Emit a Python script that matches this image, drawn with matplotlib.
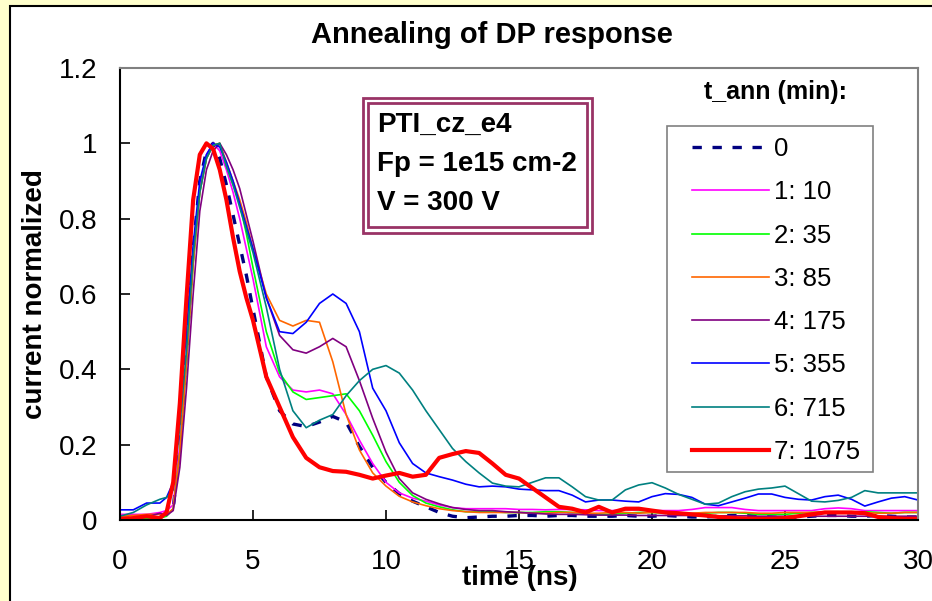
import matplotlib
matplotlib.use("Agg")
import matplotlib.pyplot as plt
from matplotlib.patches import Rectangle

plt.rcParams['font.family'] = ['Liberation Sans', 'DejaVu Sans']

# time axis (ns)
t = [0, 0.5, 1, 1.5, 1.75, 2, 2.25, 2.5, 2.75, 3, 3.25, 3.5, 3.75, 4, 4.25, 4.5, 4.75, 5,
     5.5, 6, 6.5, 7, 7.5, 8, 8.5, 9, 9.5, 10, 10.5, 11, 11.5, 12, 12.5, 13, 13.5, 14, 14.5, 15,
     15.5, 16, 16.5, 17, 17.5, 18, 18.5, 19, 19.5, 20, 20.5, 21, 21.5, 22, 22.5, 23, 23.5, 24,
     24.5, 25, 25.5, 26, 26.5, 27, 27.5, 28, 28.5, 29, 29.5, 30]

labels = ["0", "1: 10", "2: 35", "3: 85", "4: 175", "5: 355", "6: 715", "7: 1075"]
colors = ["#000080", "#FF00FF", "#00FF00", "#FF6600", "#800080", "#0000FF", "#008080", "#FF0000"]

ann0 = [0.005, 0.005, 0.006, 0.01, 0.015, 0.03,
        0.2, 0.45, 0.72, 0.9, 0.98, 1.0, 0.96, 0.89, 0.81, 0.73, 0.65, 0.56,
        0.38, 0.29, 0.255, 0.248, 0.26, 0.275, 0.26, 0.195, 0.14, 0.10, 0.07, 0.05, 0.035, 0.02,
        0.01, 0.006, 0.008, 0.01, 0.01, 0.012, 0.012, 0.01, 0.012, 0.012, 0.01, 0.01, 0.01,
        0.012, 0.01, 0.01, 0.012, 0.01, 0.008, 0.008, 0.01, 0.012, 0.012, 0.01, 0.008, 0.006,
        0.008, 0.01, 0.012, 0.012, 0.01, 0.01, 0.012, 0.01, 0.008, 0.008]
ann10 = [0.015, 0.015, 0.015, 0.02, 0.025, 0.04,
         0.2, 0.43, 0.69, 0.88, 0.97, 1.0, 0.98, 0.93, 0.87, 0.8, 0.72, 0.64,
         0.46, 0.38, 0.345, 0.34, 0.345, 0.335, 0.28, 0.212, 0.15, 0.10, 0.072, 0.058, 0.05, 0.04,
         0.033, 0.03, 0.03, 0.03, 0.03, 0.028, 0.028, 0.027, 0.028, 0.028, 0.027, 0.025, 0.025,
         0.027, 0.027, 0.025, 0.025, 0.025, 0.028, 0.033, 0.033, 0.033, 0.028, 0.025, 0.025, 0.025,
         0.025, 0.025, 0.03, 0.032, 0.03, 0.025, 0.025, 0.025, 0.025, 0.025]
ann35 = [0.005, 0.005, 0.005, 0.005, 0.01, 0.03,
         0.18, 0.42, 0.68, 0.87, 0.96, 0.995, 1.0, 0.94, 0.89, 0.84, 0.76, 0.67,
         0.5, 0.39, 0.34, 0.32, 0.325, 0.33, 0.335, 0.29, 0.225, 0.155, 0.1, 0.065, 0.045, 0.035,
         0.027, 0.022, 0.022, 0.022, 0.02, 0.02, 0.02, 0.022, 0.022, 0.02, 0.018, 0.015, 0.015,
         0.018, 0.02, 0.02, 0.018, 0.015, 0.015, 0.018, 0.02, 0.02, 0.018, 0.015, 0.015, 0.015,
         0.018, 0.02, 0.02, 0.018, 0.02, 0.022, 0.02, 0.018, 0.02, 0.02]
ann85 = [0.01, 0.012, 0.015, 0.015, 0.015, 0.03,
         0.18, 0.42, 0.68, 0.87, 0.96, 0.995, 1.0, 0.95, 0.9, 0.85, 0.79, 0.72,
         0.6, 0.53, 0.515, 0.53, 0.525, 0.42, 0.28, 0.186, 0.125, 0.09, 0.063, 0.048, 0.038, 0.03,
         0.025, 0.022, 0.02, 0.02, 0.02, 0.02, 0.018, 0.018, 0.02, 0.02, 0.018, 0.018, 0.02,
         0.02, 0.018, 0.02, 0.02, 0.018, 0.018, 0.02, 0.02, 0.02, 0.02, 0.018, 0.018, 0.02,
         0.02, 0.02, 0.022, 0.022, 0.02, 0.02, 0.018, 0.018, 0.02, 0.02]
ann175 = [0.005, 0.005, 0.008, 0.018, 0.012, 0.025,
          0.14, 0.35, 0.6, 0.82, 0.93, 0.98, 1.0, 0.97, 0.93, 0.88, 0.81, 0.74,
          0.59, 0.49, 0.452, 0.443, 0.46, 0.482, 0.46, 0.37, 0.27, 0.18, 0.11, 0.072, 0.055, 0.043,
          0.033, 0.028, 0.025, 0.025, 0.022, 0.02, 0.018, 0.016, 0.015, 0.015, 0.014, 0.013, 0.013,
          0.013, 0.012, 0.012, 0.012, 0.012, 0.012, 0.011, 0.011, 0.011, 0.011, 0.01, 0.01, 0.01,
          0.01, 0.01, 0.01, 0.01, 0.01, 0.01, 0.01, 0.01, 0.01, 0.01]
ann355 = [0.027, 0.027, 0.045, 0.045, 0.06, 0.1,
          0.3, 0.5, 0.73, 0.9, 0.97, 1.0, 0.99, 0.95, 0.9, 0.84, 0.78, 0.72,
          0.59, 0.5, 0.495, 0.525, 0.575, 0.6, 0.575, 0.5, 0.35, 0.29, 0.205, 0.15, 0.125, 0.115,
          0.106, 0.095, 0.088, 0.09, 0.088, 0.082, 0.08, 0.078, 0.078, 0.066, 0.048, 0.053, 0.053,
          0.05, 0.048, 0.062, 0.07, 0.068, 0.06, 0.042, 0.038, 0.048, 0.058, 0.069, 0.069, 0.06,
          0.055, 0.053, 0.062, 0.066, 0.055, 0.037, 0.048, 0.058, 0.062, 0.053]
ann715 = [0.01, 0.02, 0.04, 0.055, 0.06, 0.08,
          0.25, 0.45, 0.7, 0.87, 0.96, 0.995, 1.0, 0.94, 0.89, 0.83, 0.77, 0.71,
          0.565, 0.40, 0.29, 0.245, 0.265, 0.28, 0.33, 0.37, 0.40, 0.41, 0.39, 0.345, 0.29, 0.24,
          0.19, 0.155, 0.125, 0.098, 0.09, 0.088, 0.1, 0.112, 0.112, 0.088, 0.062, 0.053, 0.053,
          0.08, 0.093, 0.099, 0.085, 0.068, 0.055, 0.042, 0.045, 0.062, 0.075, 0.082, 0.085, 0.09,
          0.07, 0.05, 0.048, 0.052, 0.06, 0.078, 0.072, 0.072, 0.072, 0.072]
ann1075 = [0.003, 0.005, 0.01, 0.005, 0.02, 0.1,
           0.31, 0.59, 0.85, 0.97, 1.0, 0.985, 0.93, 0.85, 0.75, 0.66, 0.59, 0.53,
           0.38, 0.30, 0.22, 0.165, 0.14, 0.13, 0.128, 0.12, 0.11, 0.118, 0.125, 0.115, 0.12, 0.165,
           0.175, 0.183, 0.178, 0.15, 0.12, 0.11, 0.085, 0.06, 0.035, 0.03, 0.02, 0.035, 0.02,
           0.03, 0.03, 0.025, 0.02, 0.018, 0.015, 0.012, 0.008, 0.005, 0.004, 0.003, 0.003, 0.005,
           0.01, 0.015, 0.02, 0.02, 0.02, 0.018, 0.008, 0.005, 0.003, 0.003]

series = [ann0, ann10, ann35, ann85, ann175, ann355, ann715, ann1075]

W, H = 932, 601
fig = plt.figure(figsize=(W / 100, H / 100), dpi=100, facecolor="#FFFFCC")

def fx(px):
    return px / W

def fy(py):
    return 1 - py / H

# white chart area with black border (behind the axes)
fig.patches.append(Rectangle((fx(10), fy(700)), 2.0, fy(6) - fy(700), transform=fig.transFigure,
                             facecolor="white", edgecolor="black", linewidth=1.5, zorder=-10))

ax = fig.add_axes([fx(120), fy(520), fx(918) - fx(120), fy(68) - fy(520)])
ax.set_facecolor("white")

for i, (y, lab, c) in enumerate(zip(series, labels, colors)):
    if i == 0:
        ax.plot(t, y, color=c, lw=2.4, dashes=(2.8, 3.2), label=lab)
    elif i == 7:
        ax.plot(t, y, color=c, lw=3.0, label=lab, solid_joinstyle="round")
    else:
        ax.plot(t, y, color=c, lw=1.2, label=lab)

ax.set_xlim(0, 30)
ax.set_ylim(0, 1.2)
ax.set_xticks([0, 5, 10, 15, 20, 25, 30])
ax.set_yticks([0, 0.2, 0.4, 0.6, 0.8, 1, 1.2])
ax.set_yticklabels(["0", "0.2", "0.4", "0.6", "0.8", "1", "1.2"])
ax.tick_params(axis="both", direction="in", length=7, width=1.2, labelsize=20)
ax.tick_params(axis="x", pad=21)
ax.tick_params(axis="y", pad=16)
for s in ["left", "bottom"]:
    ax.spines[s].set_color("black")
    ax.spines[s].set_linewidth(1.5)
for s in ["top", "right"]:
    ax.spines[s].set_color("#808080")
    ax.spines[s].set_linewidth(1.5)

fig.text(fx(492), fy(35), "Annealing of DP response", ha="center", va="center",
         fontsize=21, fontweight="bold")
fig.text(fx(520), fy(578), "time (ns)", ha="center", va="center", fontsize=20, fontweight="bold")
fig.text(fx(35), fy(294), "current normalized", ha="center", va="center", rotation=90,
         fontsize=20, fontweight="bold")

# info box with double border
fig.patches.append(Rectangle((fx(363), fy(233)), fx(592) - fx(363), fy(98) - fy(233),
                             transform=fig.transFigure, facecolor="white", edgecolor="#993366",
                             linewidth=2, zorder=5))
fig.patches.append(Rectangle((fx(368), fy(227)), fx(587) - fx(368), fy(103) - fy(227),
                             transform=fig.transFigure, facecolor="none", edgecolor="#993366",
                             linewidth=2, zorder=5))
for py, txt in zip([125, 164, 203], ["PTI_cz_e4", "Fp = 1e15 cm-2", "V = 300 V"]):
    fig.text(fx(377), fy(py), txt, ha="left", va="center", fontsize=20, fontweight="bold", zorder=6)

# legend: frame drawn separately so the inner padding can match
fig.patches.append(Rectangle((fx(667), fy(472)), fx(873) - fx(667), fy(126) - fy(472),
                             transform=fig.transFigure, facecolor="white", edgecolor="#808080",
                             linewidth=1.2, zorder=3))
fig.text(fx(776), fy(92), "t_ann (min):", ha="center", va="center", fontsize=18, fontweight="bold")
handles, labs = ax.get_legend_handles_labels()
leg = fig.legend(handles, labs, loc="upper left", bbox_to_anchor=(fx(692), fy(137)),
                 bbox_transform=fig.transFigure, borderaxespad=0, borderpad=0, fontsize=18.5,
                 handlelength=3.0, handletextpad=0.2, labelspacing=0.75, frameon=False)
leg.set_zorder(6)

fig.savefig("out.png", dpi=100, facecolor=fig.get_facecolor())
